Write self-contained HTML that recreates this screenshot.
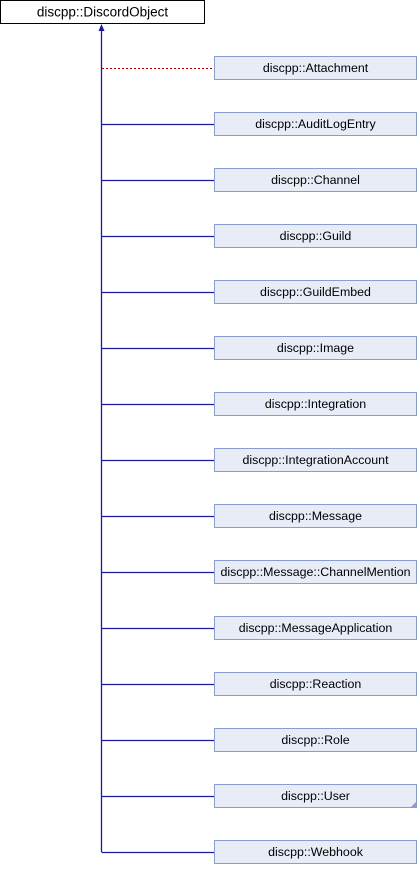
<!DOCTYPE html><html><head><style>body{margin:0;background:#fff}</style></head><body>
<svg width="418" height="864" xmlns="http://www.w3.org/2000/svg" font-family="Liberation Sans, sans-serif" font-size="12.4">
<rect x="0.5" y="0.5" width="204" height="23" fill="#fff" stroke="#000"/>
<text x="102.5" y="16.5" text-anchor="middle" font-size="13.5">discpp::DiscordObject</text>
<line x1="101.5" y1="30" x2="101.5" y2="852" stroke="#1a1a9a" stroke-width="1.3"/>
<polygon points="101.5,24 98.5,31 104.5,31" fill="#1a1a9a"/>
<line x1="102" y1="68.5" x2="214" y2="68.5" stroke="#a00" stroke-dasharray="2,2"/>
<g fill="#e8ecf6" stroke="#8a9ccc">
<rect x="214.5" y="56.5" width="202" height="23"/><rect x="214.5" y="112.5" width="202" height="23"/><rect x="214.5" y="168.5" width="202" height="23"/><rect x="214.5" y="224.5" width="202" height="23"/><rect x="214.5" y="280.5" width="202" height="23"/><rect x="214.5" y="336.5" width="202" height="23"/><rect x="214.5" y="392.5" width="202" height="23"/><rect x="214.5" y="448.5" width="202" height="23"/><rect x="214.5" y="504.5" width="202" height="23"/><rect x="214.5" y="560.5" width="202" height="23"/><rect x="214.5" y="616.5" width="202" height="23"/><rect x="214.5" y="672.5" width="202" height="23"/><rect x="214.5" y="728.5" width="202" height="23"/><rect x="214.5" y="784.5" width="202" height="23"/><rect x="214.5" y="840.5" width="202" height="23"/>
</g>
<polygon points="417,801 417,807 411,807" fill="#8a9ccc"/>
<g stroke="#1a1a9a" stroke-width="1.3">
<line x1="101.5" y1="124.5" x2="214" y2="124.5"/><line x1="101.5" y1="180.5" x2="214" y2="180.5"/><line x1="101.5" y1="236.5" x2="214" y2="236.5"/><line x1="101.5" y1="292.5" x2="214" y2="292.5"/><line x1="101.5" y1="348.5" x2="214" y2="348.5"/><line x1="101.5" y1="404.5" x2="214" y2="404.5"/><line x1="101.5" y1="460.5" x2="214" y2="460.5"/><line x1="101.5" y1="516.5" x2="214" y2="516.5"/><line x1="101.5" y1="572.5" x2="214" y2="572.5"/><line x1="101.5" y1="628.5" x2="214" y2="628.5"/><line x1="101.5" y1="684.5" x2="214" y2="684.5"/><line x1="101.5" y1="740.5" x2="214" y2="740.5"/><line x1="101.5" y1="796.5" x2="214" y2="796.5"/><line x1="101.5" y1="852.5" x2="214" y2="852.5"/>
</g>
<g text-anchor="middle" fill="#000">
<text x="315.5" y="72">discpp::Attachment</text>
<text x="315.5" y="128">discpp::AuditLogEntry</text>
<text x="315.5" y="184">discpp::Channel</text>
<text x="315.5" y="240">discpp::Guild</text>
<text x="315.5" y="296">discpp::GuildEmbed</text>
<text x="315.5" y="352">discpp::Image</text>
<text x="315.5" y="408">discpp::Integration</text>
<text x="315.5" y="464">discpp::IntegrationAccount</text>
<text x="315.5" y="520">discpp::Message</text>
<text x="315.5" y="576">discpp::Message::ChannelMention</text>
<text x="315.5" y="632">discpp::MessageApplication</text>
<text x="315.5" y="688">discpp::Reaction</text>
<text x="315.5" y="744">discpp::Role</text>
<text x="315.5" y="800">discpp::User</text>
<text x="315.5" y="856">discpp::Webhook</text>
</g>
</svg>
</body></html>
